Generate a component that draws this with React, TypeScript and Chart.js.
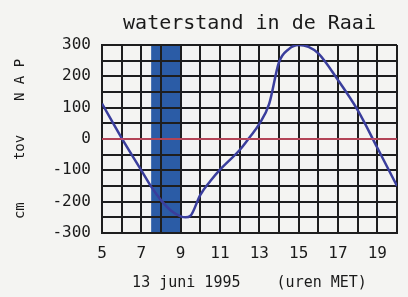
import React, { useEffect, useRef } from "react";
import { Chart, registerables } from "chart.js";

Chart.register(...registerables);

const titleText = "waterstand in de Raai";
const xTitle = "13 juni 1995    (uren MET)";
const yTitle = "cm     tov    N A P";

const hours = [5, 6, 7, 7.5, 8, 8.5, 9, 9.25, 9.5, 10, 10.5, 11, 12, 12.5, 13, 13.5, 14, 14.5, 15, 15.5, 16, 17, 18, 19, 20];
const levels = [113, 3, -100, -152, -195, -228, -247, -250, -245, -178, -135, -98, -35, 5, 48, 112, 245, 287, 300, 294, 273, 188, 92, -28, -150];

const xMin = 5;
const xMax = 20;
const yMin = -300;
const yMax = 300;
const bandStart = 7.5;
const bandEnd = 9;
const zeroLevel = 0;

const FONT = "'DejaVu Sans Mono', monospace";
const INK = "#1a1a1a";

const bandPlugin = {
  id: "band",
  beforeDraw(chart: any) {
    const { ctx, chartArea, scales } = chart;
    const x0 = scales.x.getPixelForValue(bandStart);
    const x1 = scales.x.getPixelForValue(bandEnd);
    ctx.save();
    ctx.fillStyle = "#2b5ca6";
    ctx.fillRect(x0, chartArea.top, x1 - x0, chartArea.bottom - chartArea.top);
    ctx.restore();
  },
};

export default function App() {
  const ref = useRef<HTMLCanvasElement>(null);
  useEffect(() => {
    document.body.style.margin = "0";
    document.body.style.background = "#f4f4f2";
    const chart = new Chart(ref.current!, {
      type: "line",
      data: {
        datasets: [
          {
            data: [
              { x: xMin, y: zeroLevel },
              { x: xMax, y: zeroLevel },
            ],
            borderColor: "#e6526a",
            borderWidth: 1.5,
            pointRadius: 0,
            tension: 0,
          },
          {
            data: hours.map((h, i) => ({ x: h, y: levels[i] })),
            borderColor: "#3a3e9c",
            borderWidth: 2.5,
            pointRadius: 0,
            cubicInterpolationMode: "monotone",
          },
        ],
      },
      options: {
        animation: false,
        responsive: false,
        maintainAspectRatio: false,
        layout: { padding: { left: 0, right: 1, top: 0, bottom: 0 } },
        plugins: {
          legend: { display: false },
          tooltip: { enabled: false },
          title: { display: false },
        },
        scales: {
          x: {
            type: "linear",
            min: xMin,
            max: xMax,
            afterFit: (s: any) => {
              s.height = 64;
            },
            ticks: {
              stepSize: 1,
              maxTicksLimit: 30,
              autoSkip: false,
              maxRotation: 0,
              color: INK,
              padding: 11,
              font: { family: FONT, size: 16 },
              callback: (v: any) => (Number(v) % 2 === 1 && Number(v) < 20 ? String(v) : ""),
            },
            grid: { color: "#1e1e1e", lineWidth: 2, drawTicks: false },
            border: { color: "#1e1e1e", width: 2 },
            title: {
              display: true,
              text: xTitle,
              color: INK,
              font: { family: FONT, size: 15 },
              padding: { top: 0, bottom: 5 },
            },
          },
          x2: {
            type: "linear",
            position: "top",
            min: xMin,
            max: xMax,
            afterFit: (s: any) => {
              s.height = 45;
            },
            ticks: { display: false },
            grid: { display: false, drawTicks: false },
            border: { display: false },
            title: {
              display: true,
              text: titleText,
              color: INK,
              font: { family: FONT, size: 20 },
              padding: { top: 12, bottom: 0 },
            },
          },
          y: {
            type: "linear",
            min: yMin,
            max: yMax,
            afterFit: (s: any) => {
              s.width = 102;
            },
            ticks: {
              stepSize: 50,
              maxTicksLimit: 30,
              autoSkip: false,
              color: INK,
              padding: 11,
              font: { family: FONT, size: 16 },
              callback: (v: any) => (Number(v) % 100 === 0 ? String(v) : ""),
            },
            grid: { color: "#1e1e1e", lineWidth: 2, drawTicks: false },
            border: { color: "#1e1e1e", width: 2 },
            title: {
              display: true,
              text: yTitle,
              color: INK,
              font: { family: FONT, size: 14 },
              padding: { top: 12, bottom: 0 },
            },
          },
        },
      },
      plugins: [bandPlugin],
    });
    return () => chart.destroy();
  }, []);
  return (
    <div style={{ position: "fixed", left: 0, top: 0, width: 408, height: 297, background: "#f4f4f2" }}>
      <canvas ref={ref} width={408} height={297} style={{ width: 408, height: 297 }} />
    </div>
  );
}
